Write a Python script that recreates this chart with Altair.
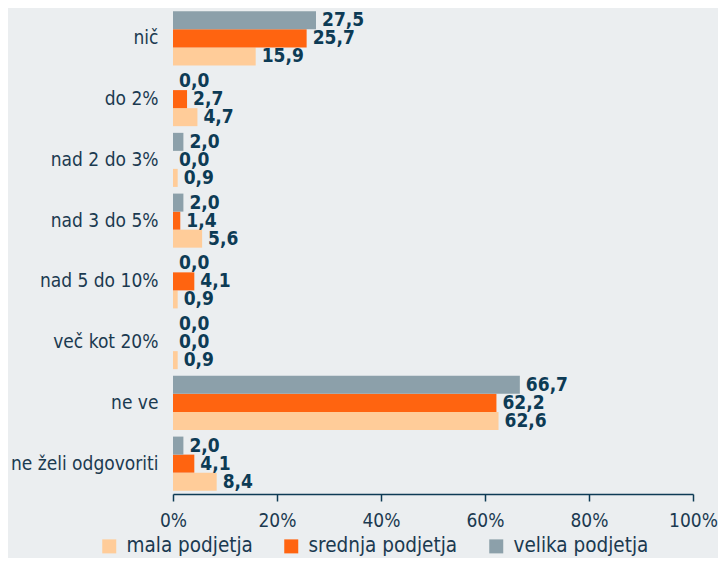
import altair as alt
import pandas as pd

categories = ["nič", "do 2%", "nad 2 do 3%", "nad 3 do 5%", "nad 5 do 10%",
              "več kot 20%", "ne ve", "ne želi odgovoriti"]
series = ["mala podjetja", "srednja podjetja", "velika podjetja"]
mala = [15.9, 4.7, 0.9, 5.6, 0.9, 0.9, 62.6, 8.4]
srednja = [25.7, 2.7, 0.0, 1.4, 4.1, 0.0, 62.2, 4.1]
velika = [27.5, 0.0, 2.0, 2.0, 0.0, 0.0, 66.7, 2.0]
x_ticks = [0, 20, 40, 60, 80, 100]

colors = ["#FFCC99", "#FF6410", "#8CA0AA"]
bg = "#EBEEF0"
navy = "#0D3B55"
axis_text = "#1B3A50"
font = "DejaVu Sans Condensed"

rows = []
for s, vals in zip(series, [mala, srednja, velika]):
    for c, v in zip(categories, vals):
        rows.append({"cat": c, "series": s, "value": v})
df = pd.DataFrame(rows)

y_enc = alt.Y("cat:N", sort=categories,
              scale=alt.Scale(paddingInner=0.11, paddingOuter=0.055),
              axis=alt.Axis(title=None, domain=False, ticks=False, labelPadding=15,
                            labelFontSize=19, labelColor=axis_text, labelFont=font))
yoff = alt.YOffset("series:N", sort=["velika podjetja", "srednja podjetja", "mala podjetja"],
                   scale=alt.Scale(paddingInner=0, paddingOuter=0))
x_enc = alt.X("value:Q", scale=alt.Scale(domain=[0, 100], nice=False),
              axis=alt.Axis(title=None, values=x_ticks, labelExpr="datum.value + '%'",
                            grid=False, domainColor=navy, domainWidth=1.5, labelFlush=False,
                            tickColor=navy, tickWidth=1.5, tickSize=7, labelPadding=10,
                            labelFontSize=19, labelColor=axis_text, labelFont=font))

bars = alt.Chart(df).mark_bar().encode(
    x=x_enc, y=y_enc, yOffset=yoff,
    color=alt.Color("series:N", sort=series,
                    scale=alt.Scale(domain=series, range=colors),
                    legend=alt.Legend(title=None, orient="none", legendX=-74, legendY=528,
                                      direction="horizontal", symbolType="square",
                                      symbolSize=196, symbolStrokeWidth=0,
                                      labelFontSize=20.5, labelFont=font, labelColor=axis_text,
                                      columnPadding=28, labelOffset=7))
)

labels = alt.Chart(df).transform_calculate(
    label="replace(format(datum.value, '.1f'), '.', ',')"
).mark_text(align="left", baseline="middle", dx=6, fontWeight="bold",
            fontSize=19, color=navy, font=font).encode(
    x="value:Q", y=alt.Y("cat:N", sort=categories), yOffset=yoff, text="label:N"
)

chart = alt.layer(bars, labels).properties(
    width=520, height=486,
    padding={"left": 165, "top": 0, "right": 25, "bottom": 64},
    autosize=alt.AutoSizeParams(type="none"),
    background=bg,
).configure_view(stroke=None).configure_axis(labelFont=font)

chart.save("out.html", embed_options={"renderer": "svg", "actions": False})
